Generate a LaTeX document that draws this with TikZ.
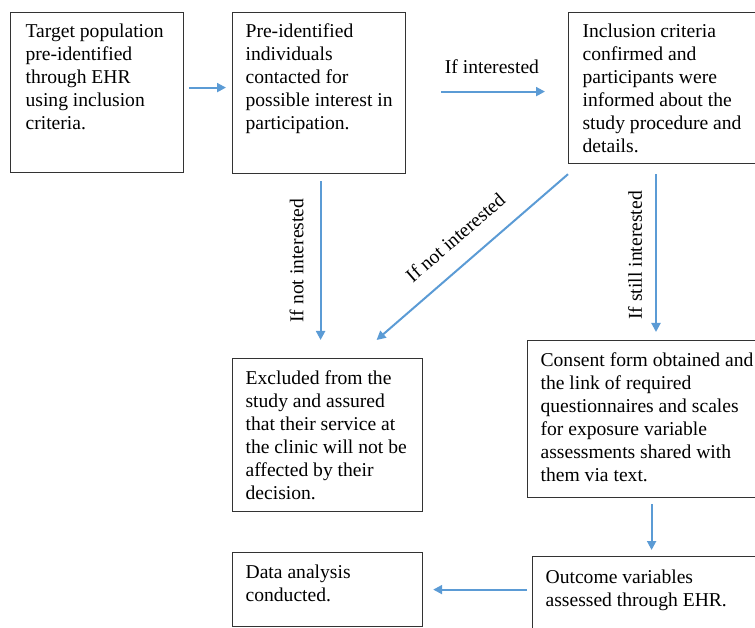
\documentclass[tikz,border=0pt]{standalone}
\usepackage{fontspec}
\setmainfont{Liberation Serif}
\usetikzlibrary{arrows.meta}
\definecolor{flowblue}{HTML}{5B9BD5}
\newcommand{\boxtext}[3]{\makebox[#1][l]{\parbox[t][#2][t]{\dimexpr#1+40pt\relax}{\raggedright #3}}}

\begin{document}
\begin{tikzpicture}[
    x=1pt, y=-1pt,
    every node/.style={font=\fontsize{19.6}{23}\selectfont},
    box/.style={draw=black!80, line width=1.2pt, anchor=north west, inner xsep=13pt, inner ysep=11pt},
    flow/.style={draw=flowblue, line width=2pt, >={Triangle[length=9pt,width=9pt]}},
    lbl/.style={inner sep=2pt}
]
\useasboundingbox (0,0) rectangle (755,628);
\clip (0,0) rectangle (755,628);

% boxes
\node[box, inner xsep=15pt] (tgt) at (10,12) {\boxtext{143pt}{138pt}{Target population\\ pre-identified\\ through EHR\\ using inclusion\\ criteria.}};
\node[box] (pre) at (232,12) {\boxtext{147pt}{139pt}{Pre-identified\\ individuals\\ contacted for\\ possible interest in\\ participation.}};
\node[box, inner xsep=14pt] (inc) at (568,12) {\boxtext{179pt}{129pt}{Inclusion criteria\\ confirmed and\\ participants were\\ informed about the\\ study procedure and\\ details.}};
\node[box, inner ysep=12pt] (exc) at (232,358) {\boxtext{164pt}{129pt}{Excluded from the\\ study and assured\\ that their service at\\ the clinic will not be\\ affected by their\\ decision.}};
\node[box, inner ysep=12pt] (con) at (527,340) {\boxtext{222pt}{133pt}{Consent form obtained and\\ the link of required\\ questionnaires and scales\\ for exposure variable\\ assessments shared with\\ them via text.}};
\node[box, inner ysep=12pt] (dat) at (232,552) {\boxtext{164pt}{50pt}{Data analysis\\ conducted.}};
\node[box, inner ysep=13pt] (out) at (532,556) {\boxtext{217pt}{64pt}{Outcome variables\\ assessed through EHR.}};

% arrows
\draw[flow, ->, shorten <=5pt, shorten >=6pt] ([yshift=5pt]tgt.east) -- ([yshift=5pt]tgt.east -| pre.west);
\draw[flow, ->, shorten <=35pt, shorten >=23pt] ([yshift=1.5pt]pre.east) -- ([yshift=1.5pt]pre.east -| inc.west)
    node[pos=0.53, above=15pt, lbl] {If interested};
\draw[flow, ->, shorten <=7pt, shorten >=18pt] ([xshift=1.5pt]pre.south) -- ([xshift=1.5pt]pre.south |- exc.north)
    node[pos=0.47, xshift=-14pt, rotate=90, anchor=south, lbl] {If not interested};
\draw[flow, <-] ([xshift=49pt,yshift=18pt]exc.north) -- ([yshift=-10pt]inc.south west)
    node[midway, sloped, above=16pt, lbl] {If not interested};
\draw[flow, ->, shorten >=8pt] ([xshift=88pt,yshift=-10pt]inc.south west) -- ([xshift=88pt]inc.south west |- con.north)
    node[pos=0.49, xshift=-11pt, rotate=90, anchor=south, lbl] {If still interested};
\draw[flow, ->, shorten <=6pt, shorten >=6pt] (con.south) -- (con.south |- out.north);
\draw[flow, ->, shorten <=5pt, shorten >=10pt] (out.west |- dat.east) -- (dat.east);

\end{tikzpicture}
\end{document}
